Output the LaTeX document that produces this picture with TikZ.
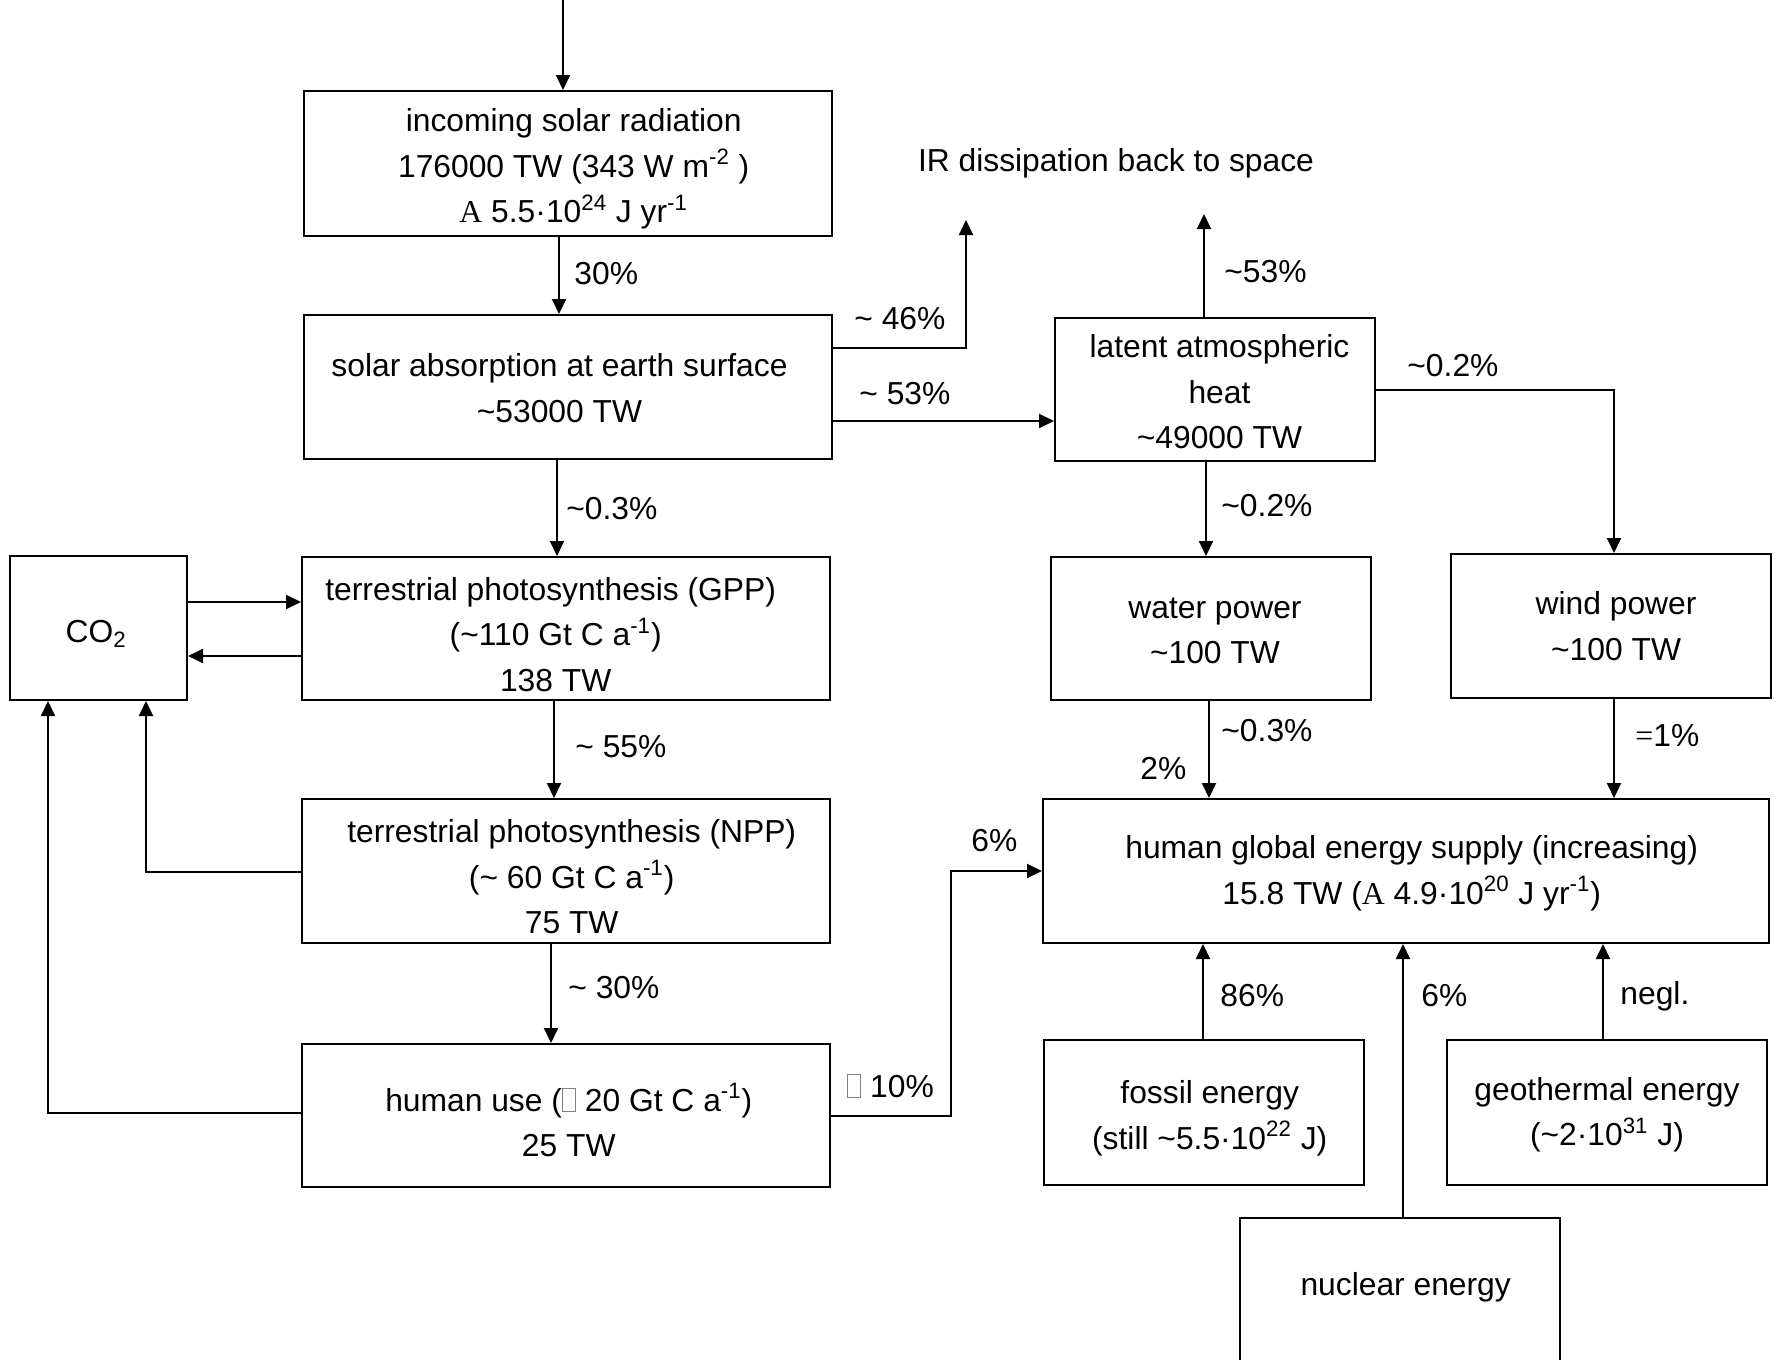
\documentclass[tikz,border=0pt]{standalone}
\usepackage{fontspec}
\setmainfont{Liberation Sans}
\newfontfamily\symfont{Liberation Serif}
\usetikzlibrary{arrows.meta,calc}
\newcommand\tld{\textasciitilde}
% empty grey box standing in for a glyph the font lacks
\newcommand\missbox{{\color{gray}\setlength{\fboxsep}{0pt}\setlength{\fboxrule}{0.5pt}\fbox{\rule{0pt}{11.2pt}\hspace{6pt}}}}
\begin{document}
\begin{tikzpicture}[x=0.5pt,y=-0.5pt,
  box/.style={draw, line width=1pt, inner sep=0pt},
  txt/.style={align=center, inner sep=0pt, font=\fontsize{15.9}{22.75}\selectfont},
  lbl/.style={anchor=west, inner sep=0pt, text height=11.4pt, text depth=0pt,
    font=\fontsize{15.9}{19}\selectfont},
  arr/.style={line width=1pt, -{Triangle[length=7.5pt,width=7pt]}}]
\useasboundingbox (0,0) rectangle (1785,1360);

% boxes
\node[box, minimum width=264pt, minimum height=72.5pt] (inc) at (568,163.5) {};
\node[box, minimum width=264pt, minimum height=72pt] (abs) at (568,387) {};
\node[box, minimum width=264pt, minimum height=71.5pt] (gpp) at (566,628.5) {};
\node[box, minimum width=264pt, minimum height=72pt] (npp) at (566,871) {};
\node[box, minimum width=264pt, minimum height=71.5pt] (use) at (566,1115.5) {};
\node[box, minimum width=88.5pt, minimum height=72pt] (co2) at (98.5,628) {};
\node[box, minimum width=160pt, minimum height=71.5pt] (lat) at (1215,389.5) {};
\node[box, minimum width=160pt, minimum height=71.5pt] (wat) at (1211,628.5) {};
\node[box, minimum width=160pt, minimum height=72pt] (wind) at (1611,626) {};
\node[box, minimum width=363pt, minimum height=72pt] (glob) at (1406,871) {};
\node[box, minimum width=160pt, minimum height=72.5pt] (fos) at (1204,1112.5) {};
\node[box, minimum width=160pt, minimum height=72.5pt] (geo) at (1607,1112.5) {};
\node[box, minimum width=160pt, minimum height=72.5pt] (nuc) at (1400,1290.5) {};

% box texts
\node[txt] (incT) at ($(inc)+(5.7,5.7)$)
  {incoming solar radiation\\176000 TW (343 W m\textsuperscript{-2} )\\{\symfont A} 5.5·10\textsuperscript{24} J yr\textsuperscript{-1}};
\node[txt] (absT) at ($(abs)+(-8.5,1.1)$)
  {solar absorption at earth surface\\\tld53000 TW};
\node[txt] (gppT) at ($(gpp)+(-10.3,5.7)$)
  {terrestrial photosynthesis (GPP)\hspace*{5pt}\\(\tld110 Gt C a\textsuperscript{-1})\\138 TW};
\node[txt] (nppT) at ($(npp)+(5.7,5.7)$)
  {terrestrial photosynthesis (NPP)\\(\tld\ 60 Gt C a\textsuperscript{-1})\\75 TW};
\node[txt] (useT) at ($(use)+(2.8,4.5)$)
  {human use (\missbox\ 20 Gt C a\textsuperscript{-1})\\25 TW};
\node[txt] (co2T) at ($(co2)+(-2.3,5.7)$) {CO\textsubscript{2}};
\node[txt] (latT) at ($(lat)+(4.5,2.3)$) {latent atmospheric\\heat\\\tld49000 TW};
\node[txt] (watT) at ($(wat)+(4,2.3)$) {water power\\\tld100 TW};
\node[txt] (windT) at ($(wind)+(5.1,0)$) {wind power\\\tld100 TW};
\node[txt] (globT) at ($(glob)+(5.7,2.3)$)
  {human global energy supply (increasing)\\15.8 TW ({\symfont A} 4.9·10\textsuperscript{20} J yr\textsuperscript{-1})};
\node[txt] (fosT) at ($(fos)+(5.7,5.7)$) {fossil energy\\(still \tld5.5·10\textsuperscript{22} J)};
\node[txt] (geoT) at ($(geo)+(0,2.3)$) {geothermal energy\\(\tld2·10\textsuperscript{31} J)};
\node[txt] (nucT) at ($(nuc)+(5.7,-3.4)$) {nuclear energy};
\node[txt] (ir) at (1116,163) {IR dissipation back to space};

% connector columns, rows and free ends
\coordinate (sun) at (563,0);
\coordinate (c1) at (559,0);
\coordinate (c2) at (557,0);
\coordinate (c3) at (554,0);
\coordinate (c4) at (551,0);
\coordinate (r1) at (0,348);
\coordinate (irA) at (966,220);
\coordinate (r2) at (0,421);
\coordinate (latUp) at (1204,214);
\coordinate (c5) at (1206,0);
\coordinate (c6) at (1209,0);
\coordinate (c7) at (1614,0);
\coordinate (bend) at (951,1000);
\coordinate (c8) at (1203,0);
\coordinate (c9) at (1403,0);
\coordinate (c10) at (1603,0);
\coordinate (r4) at (0,602);
\coordinate (r5) at (0,656);
\coordinate (r6) at (0,872);
\coordinate (k1) at (146,0);
\coordinate (r7) at (0,1113);
\coordinate (k2) at (48,0);

% connectors
\draw[arr] (sun) -- (sun |- inc.north);
\draw[arr] (c1 |- inc.south) -- (c1 |- abs.north);
\draw[arr] (c2 |- abs.south) -- (c2 |- gpp.north);
\draw[arr] (c3 |- gpp.south) -- (c3 |- npp.north);
\draw[arr] (c4 |- npp.south) -- (c4 |- use.north);
\draw[arr] (r1 -| abs.east) -| (irA);
\draw[arr] (r2 -| abs.east) -- (r2 -| lat.west);
\draw[arr] (latUp |- lat.north) -- (latUp);
\draw[arr] (lat.east) -| (c7 |- wind.north);
\draw[arr] (c5 |- lat.south) -- (c5 |- wat.north);
\draw[arr] (c6 |- wat.south) -- (c6 |- glob.north);
\draw[arr] (c7 |- wind.south) -- (c7 |- glob.north);
\draw[arr] (use.east) -| (bend) |- (glob.west);
\draw[arr] (c8 |- fos.north) -- (c8 |- glob.south);
\draw[arr] (c9 |- nuc.north) -- (c9 |- glob.south);
\draw[arr] (c10 |- geo.north) -- (c10 |- glob.south);
\draw[arr] (r4 -| co2.east) -- (r4 -| gpp.west);
\draw[arr] (r5 -| gpp.west) -- (r5 -| co2.east);
\draw[arr] (r6 -| npp.west) -| (k1 |- co2.south);
\draw[arr] (r7 -| use.west) -| (k2 |- co2.south);

% connector labels
\node[lbl] (l1) at (574,273) {30\%};
\node[lbl] (l2) at (854,318) {\tld\ 46\%};
\node[lbl] (l3) at (859,393) {\tld\ 53\%};
\node[lbl] (l4) at (566,508) {\tld0.3\%};
\node[lbl] (l5) at (1224,271) {\tld53\%};
\node[lbl] (l6) at (1407,365) {\tld0.2\%};
\node[lbl] (l7) at (1221,505) {\tld0.2\%};
\node[lbl] (l8) at (575,746) {\tld\ 55\%};
\node[lbl] (l9) at (1221,730) {\tld0.3\%};
\node[lbl] (l10) at (1140,768) {2\%};
\node[lbl] (l11) at (1635,735) {{\symfont =}1\%};
\node[lbl] (l12) at (971,840) {6\%};
\node[lbl] (l13) at (568,987) {\tld\ 30\%};
\node[lbl] (l14) at (847,1086) {\missbox\ 10\%};
\node[lbl] (l15) at (1220,995) {86\%};
\node[lbl] (l16) at (1421,995) {6\%};
\node[lbl] (l17) at (1620,993) {negl.};
\end{tikzpicture}
\end{document}
